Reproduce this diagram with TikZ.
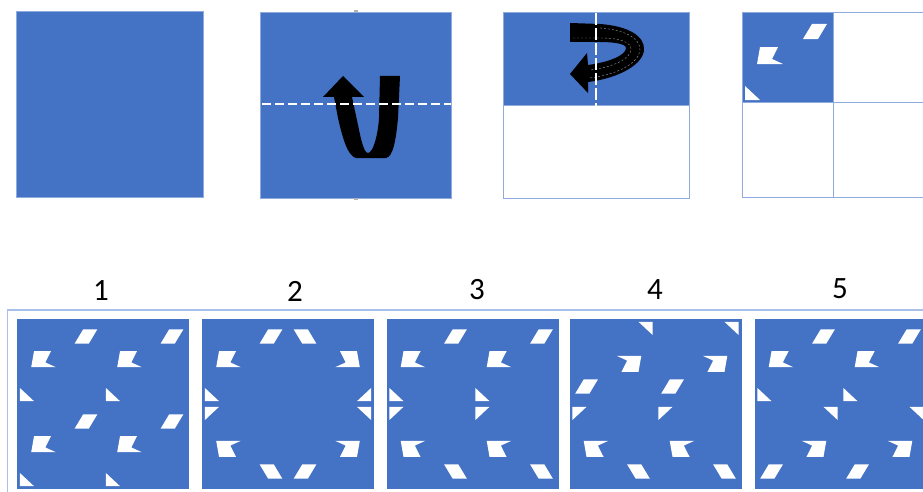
\documentclass[tikz,border=0pt]{standalone}
\usepackage{fontspec}
\setmainfont{Carlito}
\definecolor{pblue}{HTML}{4472C4}
\definecolor{pedge}{HTML}{8FAADC}
\definecolor{pframe}{HTML}{A9C1E8}
\tikzset{
  hole/.style={fill=white},
  paper/.style={fill=pblue},
  edgeline/.style={draw=pedge,line width=1},
  foldline/.style={draw=white,line width=2.4,dash pattern=on 9 off 4},
  stitch/.style={draw=white,opacity=0.6,line width=0.4,dash pattern=on 2 off 2},
  label/.style={font=\fontsize{31}{36}\selectfont,inner sep=0pt}
}
\newcommand\holepattern{%
  \fill[hole] (0.670,0.289) -- (0.835,0.289) -- (0.934,0.122) -- (0.769,0.122) -- cycle;
  \fill[hole] (0.198,0.378) -- (0.396,0.378) -- (0.330,0.511) -- (0.451,0.567) -- (0.165,0.567) -- cycle;
  \fill[hole] (0.033,0.811) -- (0.033,0.967) -- (0.198,0.967) -- cycle;}
\newcommand\qp[4]{\begin{scope}[shift={(#1,#2)},xscale=#3,yscale=#4]\holepattern\end{scope}}
\begin{document}
\begin{tikzpicture}[x=1pt,y=-1pt]
\useasboundingbox (0,0) rectangle (923,492);
\clip (0,0) rectangle (923,492);
% ---------- top row ----------
% square 1
\fill[paper] (16,11) rectangle (203,197);
\draw[draw=pedge,line width=0.6] (16,11) rectangle (203,197);
% square 2
\fill[paper] (260,12) rectangle (451,198);
\draw[draw=pedge,line width=0.6] (260,12) rectangle (451,198);
\fill[black] (400,76) -- (398,118) .. controls (396,140) and (393,157) .. (386,158)
  -- (356,158) .. controls (348,156) and (343,140) .. (338,118) -- (334,97)
  -- (323,97) -- (343,76) -- (364,97) -- (352,97)
  -- (358,125) .. controls (361,140) and (364,153) .. (368,153)
  .. controls (373,153) and (378,135) .. (379,118) -- (380,76) -- cycle;
\draw[foldline] (262,104) -- (451,104);
\fill[gray!60] (354,10) rectangle (358,12);
\fill[gray!60] (354,198) rectangle (358,200);
% square 3
\fill[paper] (503,13) rectangle (689,106);
\draw[edgeline] (503,13) rectangle (689,198);
\draw[edgeline] (503,106) -- (689,106);
\fill[black] (570,23) -- (600,24) .. controls (628,26) and (645,36) .. (644,50)
  .. controls (643,64) and (620,78) .. (588,82) -- (588,93) -- (570,74) -- (587,53)
  -- (588,65) .. controls (610,62) and (626,55) .. (626,48)
  .. controls (626,44) and (615,42) .. (600,42) -- (570,42) -- cycle;
\draw[stitch] (573,38) -- (600,38)
  .. controls (622,38) and (631,43) .. (631,49) .. controls (631,58) and (615,67) .. (590,70);
\draw[stitch] (600,28)
  .. controls (625,30) and (640,38) .. (640,50) .. controls (639,62) and (620,74) .. (590,78);
\draw[draw=white,line width=1.8,dash pattern=on 12 off 3] (596,13) -- (596,106);
% square 4
\fill[paper] (742,13) rectangle (833,103);
\draw[edgeline] (742,13) rectangle (924,197);
\draw[edgeline] (833,13) -- (833,197);
\draw[edgeline] (742,103) -- (924,103);
\qp{742}{13}{91}{90}
% ---------- answer row ----------
\draw[draw=pframe,line width=1.2] (7.5,310) rectangle (940,510);
\node[label] (l1) at (101,291) {1};
\node[label] (l2) at (295,291) {2};
\node[label] (l3) at (477,290) {3};
\node[label] (l4) at (655,290) {4};
\node[label] (l5) at (840,289) {5};
% option 1
\fill[paper] (17,319) rectangle ++(172,170);
\qp{17}{319}{86}{85}\qp{103}{319}{86}{85}
\qp{17}{404}{86}{85}\qp{103}{404}{86}{85}
% option 2
\fill[paper] (202,319) rectangle ++(172,170);
\qp{202}{319}{86}{85}\qp{374}{319}{-86}{85}
\qp{202}{489}{86}{-85}\qp{374}{489}{-86}{-85}
% option 3
\fill[paper] (386.5,319) rectangle ++(172,170);
\qp{386.5}{319}{86}{85}\qp{472.5}{319}{86}{85}
\qp{386.5}{489}{86}{-85}\qp{472.5}{489}{86}{-85}
% option 4
\fill[paper] (569.5,319) rectangle ++(172,170);
\qp{655.5}{404}{-86}{-85}\qp{741.5}{404}{-86}{-85}
\qp{569.5}{489}{86}{-85}\qp{655.5}{489}{86}{-85}
% option 5
\fill[paper] (754.5,319) rectangle ++(172,170);
\qp{754.5}{319}{86}{85}\qp{840.5}{319}{86}{85}
\qp{840.5}{489}{-86}{-85}\qp{926.5}{489}{-86}{-85}
\end{tikzpicture}
\end{document}
